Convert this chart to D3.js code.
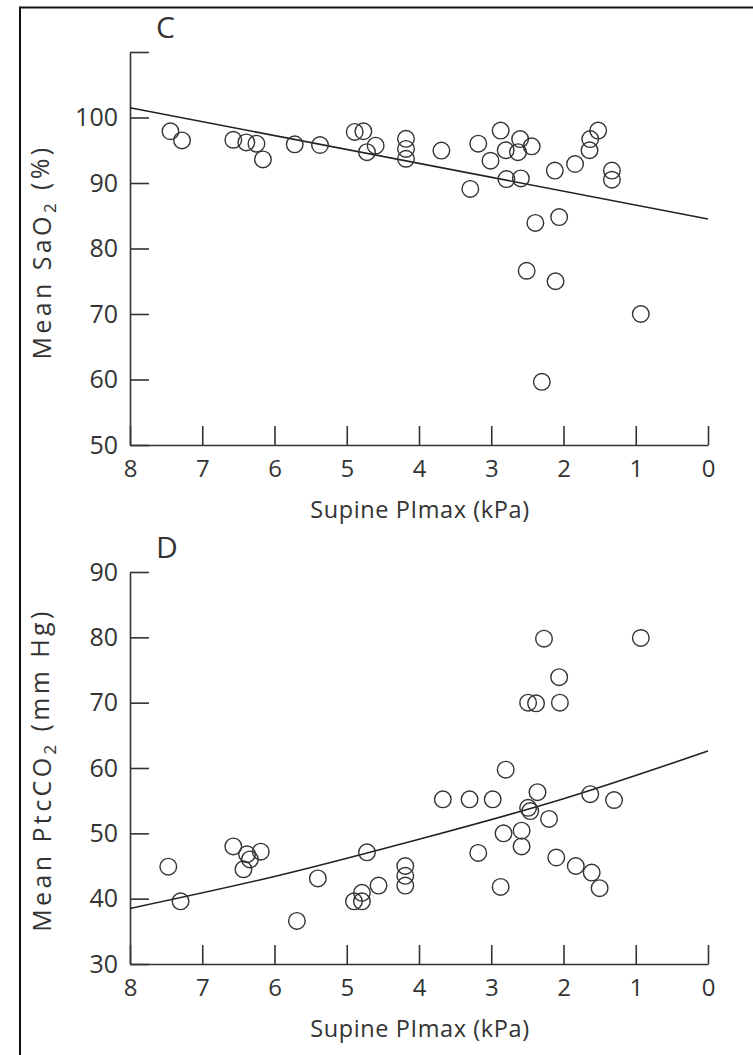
<!DOCTYPE html>
<html>
<head>
<meta charset="utf-8">
<script src="https://cdn.jsdelivr.net/npm/d3@7"></script>
<style>
  body { margin: 0; background: #fff; }
  text { font-family: "Open Sans", "DejaVu Sans", sans-serif; fill: #333; }
</style>
</head>
<body>
<svg id="chart"></svg>
<script>
// Panel C: mean SaO2 vs supine PImax
const plimaxC = [7.44, 7.28, 6.57, 6.39, 6.25, 6.16, 5.72, 5.37, 4.89, 4.77, 4.72, 4.60,
  4.18, 4.18, 4.18, 3.69, 3.18, 3.29, 2.87, 3.01, 2.80, 2.60, 2.63, 2.44, 2.79, 2.59,
  2.12, 1.84, 1.52, 1.63, 1.64, 1.33, 1.33, 2.39, 2.06, 2.51, 2.11, 0.93, 2.30];
const sao2C = [97.9, 96.5, 96.6, 96.2, 96.0, 93.6, 95.9, 95.8, 97.8, 97.9, 94.7, 95.7,
  96.75, 95.2, 93.7, 94.95, 96.0, 89.1, 98.0, 93.4, 95.0, 96.7, 94.7, 95.6, 90.6, 90.7,
  91.9, 92.9, 98.0, 96.7, 95.0, 91.9, 90.5, 83.9, 84.8, 76.6, 75.0, 70.0, 59.65];
// regression line
const fitXC = [8, 0];
const fitYC = [101.5, 84.5];

// Panel D: mean PtcCO2 vs supine PImax
const plimaxD = [7.47, 7.30, 6.57, 6.43, 6.38, 6.34, 6.19, 5.69, 5.40, 4.90, 4.79, 4.79,
  4.72, 4.56, 4.19, 4.19, 4.19, 3.67, 3.30, 2.98, 3.18, 2.87, 2.83, 2.58, 2.58, 2.49,
  2.46, 2.36, 2.20, 2.10, 1.83, 1.61, 1.50, 1.63, 1.30, 2.27, 0.93, 2.06, 2.49, 2.38,
  2.05, 2.80];
const ptcco2D = [44.9, 39.6, 48.0, 44.5, 46.8, 46.0, 47.2, 36.6, 43.1, 39.6, 40.9, 39.6,
  47.1, 42.0, 45.0, 43.5, 42.0, 55.2, 55.2, 55.2, 47.0, 41.8, 50.0, 50.4, 48.0, 53.9,
  53.4, 56.3, 52.2, 46.3, 45.0, 44.0, 41.6, 56.0, 55.1, 79.8, 79.9, 73.9, 70.0, 69.9,
  70.0, 59.75];
const fitXD = [8, 6, 4, 2, 0];
const fitYD = [38.5, 43.4, 49.1, 55.3, 62.6];

const xTicks = [8, 7, 6, 5, 4, 3, 2, 1, 0];
const yTicksC = [50, 60, 70, 80, 90, 100, 110];
const yTicksD = [30, 40, 50, 60, 70, 80, 90];

const W = 753, H = 1055;
const svg = d3.select("#chart").attr("width", W).attr("height", H);

// outer frame
svg.append("rect")
  .attr("x", 20).attr("y", 7.5)
  .attr("width", 740).attr("height", 1060)
  .attr("fill", "none").attr("stroke", "#111").attr("stroke-width", 2);

function panel(opt) {
  const g = svg.append("g");
  const x = d3.scaleLinear().domain([8, 0]).range([130, 708]);
  const y = d3.scaleLinear().domain(opt.yDomain).range([opt.bottom, opt.top]);

  const xAxis = g.append("g")
    .attr("transform", "translate(0," + opt.bottom + ")")
    .call(d3.axisBottom(x).tickValues(xTicks).tickSizeInner(-19).tickSizeOuter(0).tickPadding(15));

  const yAxis = g.append("g")
    .attr("transform", "translate(130,0)")
    .call(d3.axisLeft(y).tickValues(opt.yTicks).tickSizeInner(-19).tickSizeOuter(0).tickPadding(12)
      .tickFormat(d => d > opt.yDomain[1] - 1e-9 && opt.hideTop ? "" : d));

  [xAxis, yAxis].forEach(a => {
    a.selectAll("path, line").attr("stroke", "#333").attr("stroke-width", 1.6);
  });
  xAxis.selectAll("text").style("font-size", "24px").attr("fill", "#333");
  yAxis.selectAll("text").style("font-size", "25px").attr("fill", "#333");

  // panel letter
  g.append("text").attr("x", 156).attr("y", opt.top - 14)
    .style("font-size", "30px").text(opt.letter);

  // x title
  g.append("text").attr("x", 420).attr("y", opt.bottom + 73)
    .attr("text-anchor", "middle").style("font-size", "23.5px").style("letter-spacing", "0.6px")
    .text("Supine PImax (kPa)");

  // y title with subscript
  const yt = g.append("text")
    .attr("transform", "translate(51," + opt.titleY + ") rotate(-90)")
    .attr("text-anchor", "middle").style("font-size", "25px").style("letter-spacing", "3.4px");
  yt.append("tspan").text(opt.yPre);
  yt.append("tspan").attr("dy", "0.3em").style("font-size", "17px").text("2");
  yt.append("tspan").attr("dy", "-0.3em").text(opt.yPost);

  // fitted line
  const pts = opt.fitX.map((v, i) => [v, opt.fitY[i]]);
  g.append("path")
    .datum(pts)
    .attr("fill", "none").attr("stroke", "#222").attr("stroke-width", 1.6)
    .attr("d", d3.line().x(d => x(d[0])).y(d => y(d[1])).curve(d3.curveNatural));

  // points
  const data = opt.xs.map((v, i) => ({ x: v, y: opt.ys[i] }));
  g.selectAll(".dot")
    .data(data)
    .enter().append("circle")
    .attr("class", "dot")
    .attr("cx", d => x(d.x))
    .attr("cy", d => y(d.y))
    .attr("r", 8.3)
    .attr("fill", "none")
    .attr("stroke", "#333")
    .attr("stroke-width", 1.4);
}

panel({
  letter: "C", top: 52, bottom: 445, yDomain: [50, 110], yTicks: yTicksC, hideTop: true,
  yPre: "Mean SaO", yPost: " (%)", titleY: 252,
  xs: plimaxC, ys: sao2C, fitX: fitXC, fitY: fitYC
});

panel({
  letter: "D", top: 572, bottom: 964, yDomain: [30, 90], yTicks: yTicksD, hideTop: false,
  yPre: "Mean PtcCO", yPost: " (mm Hg)", titleY: 770,
  xs: plimaxD, ys: ptcco2D, fitX: fitXD, fitY: fitYD
});
</script>
</body>
</html>
